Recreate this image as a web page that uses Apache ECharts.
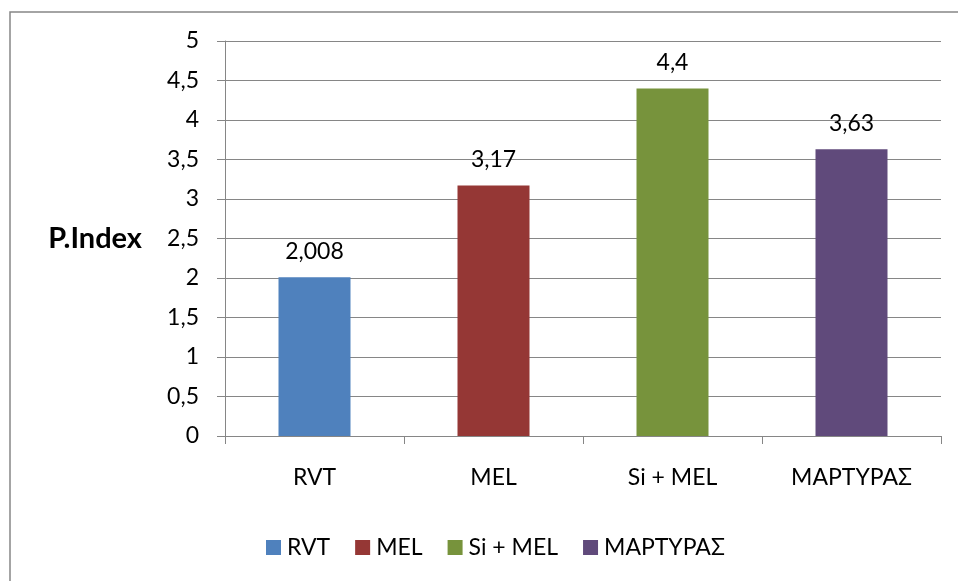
<!DOCTYPE html>
<html>
<head>
<meta charset="utf-8">
<script src="https://cdn.jsdelivr.net/npm/echarts@6/dist/echarts.min.js"></script>
<style>
  html, body { margin: 0; padding: 0; background: #fff; }
  #chart { width: 958px; height: 581px; }
</style>
</head>
<body>
<div id="chart"></div>
<script>
// Categories, one bar each, coloured per treatment
const categories = ['RVT', 'MEL', 'Si + MEL', 'ΜΑΡΤΥΡΑΣ'];
const values = [2.008, 3.17, 4.4, 3.63];
const colors = ['#4F81BD', '#953735', '#77933C', '#604A7B'];
const yTicks = { min: 0, max: 5, interval: 0.5 };

const FONT = 'Lato, "Noto Sans", sans-serif';
const GRAY = '#868686';
const comma = v => String(v).replace('.', ',');

// One series per category so the legend lists every treatment;
// the bars overlap at each category centre via barGap -100%.
const series = categories.map((name, i) => ({
  name: name,
  type: 'bar',
  barWidth: 72,
  barGap: '-100%',
  itemStyle: { color: colors[i] },
  label: {
    show: true,
    position: 'top',
    distance: 14,
    fontFamily: FONT,
    fontSize: 23,
    color: '#000',
    formatter: p => comma(p.value)
  },
  data: categories.map((c, j) => (j === i ? values[i] : '-'))
}));

const chart = echarts.init(document.getElementById('chart'), null, { renderer: 'canvas' });
chart.setOption({
  animation: false,
  backgroundColor: '#fff',
  textStyle: { fontFamily: FONT },
  graphic: [{
    type: 'rect',
    shape: { x: 10, y: 12, width: 960, height: 580 },
    style: { fill: 'none', stroke: GRAY, lineWidth: 1.5 },
    silent: true
  }],
  grid: { left: 225, top: 41, right: 17, bottom: 145, containLabel: false },
  legend: {
    left: 266,
    top: 536,
    padding: 0,
    icon: 'rect',
    itemWidth: 15,
    itemHeight: 15,
    itemGap: 25,
    textStyle: { fontFamily: FONT, fontSize: 23, color: '#000', padding: [0, 0, 0, 1] },
    data: categories
  },
  xAxis: {
    type: 'category',
    data: categories,
    axisLine: { show: true, lineStyle: { color: GRAY, width: 1 } },
    axisTick: { show: true, length: 8, alignWithLabel: false, lineStyle: { color: GRAY } },
    axisLabel: { fontFamily: FONT, fontSize: 23, color: '#000', margin: 30 },
    splitLine: { show: false }
  },
  yAxis: {
    type: 'value',
    min: yTicks.min,
    max: yTicks.max,
    interval: yTicks.interval,
    name: 'P.Index',
    nameLocation: 'middle',
    nameRotate: 0,
    nameGap: 83,
    nameTextStyle: { fontFamily: FONT, fontSize: 29, fontWeight: 'bold', color: '#000' },
    axisLine: { show: true, lineStyle: { color: GRAY, width: 1 } },
    axisTick: { show: true, length: 8, lineStyle: { color: GRAY } },
    axisLabel: { fontFamily: FONT, fontSize: 23, color: '#000', margin: 26, formatter: v => comma(v) },
    splitLine: { show: true, lineStyle: { color: GRAY, width: 1 } }
  },
  series: series
});
</script>
</body>
</html>
